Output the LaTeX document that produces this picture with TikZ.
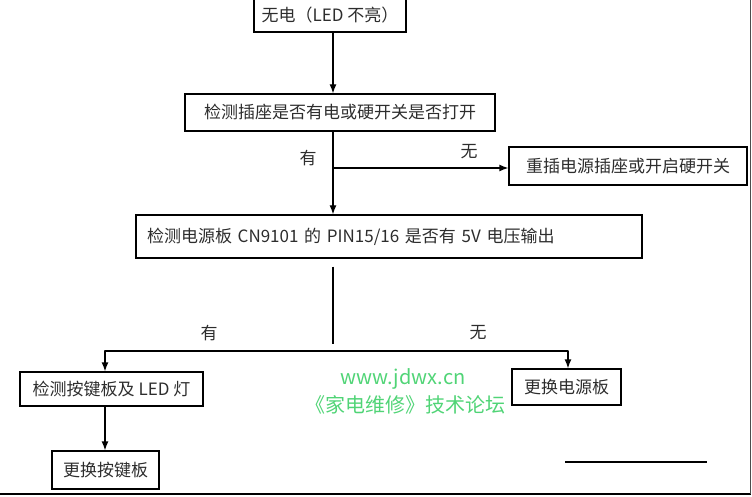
\documentclass[tikz,border=0pt]{standalone}
\usepackage{fontspec}
\setmainfont{Noto Sans CJK SC}
\usepackage{tikz}
\usetikzlibrary{arrows.meta, calc, positioning}
\usepackage{xcolor}
\definecolor{Ink}{RGB}{45,45,45}
\definecolor{MarkGreen}{RGB}{80,212,118}
\tikzset{%
  flow_block/.style={%
    rectangle,%
    draw=black,%
    line width=1.3pt,%
    text=Ink,%
    inner sep=0pt,%
    font={\fontsize{17}{20}\selectfont},%
    align=center%
  },
  flow_path/.style={%
    color=black,%
    line join=round,%
    line width=1.3pt,%
  },
  flow_annotate/.style={%
    text=Ink,%
    font={\fontsize{17}{20}\selectfont},%
  },
  watermark/.style={%
    text=MarkGreen,%
    inner sep=0pt,%
    font={\fontsize{20}{24}\selectfont},%
  },
  arrow/.style={-{Latex[length=9pt, width=7pt]}},
}

\begin{document}
\begin{tikzpicture}[x=1pt, y=1pt]

    \useasboundingbox (0,0) rectangle (752,496);

    \node [flow_block, minimum width=152, minimum height=34] (NoPower)
      at (330, 481) {无电（LED 不亮）};
    \node [flow_block, minimum width=310, minimum height=37] (CheckSocket)
      at (340, 383.5) {检测插座是否有电或硬开关是否打开};
    \node [flow_block, minimum width=238, minimum height=38] (Replug)
      at (628, 330) {重插电源插座或开启硬开关};
    \node [flow_block, inner xsep=11, text width=484, align=left,
      minimum height=43] (CheckBoard)
      at (389, 259.5) {检测电源板 CN9101 的 PIN15/16 是否有 5V 电压输出};
    \node [flow_block, minimum width=183, minimum height=34] (CheckKeys)
      at (111.5, 107) {检测按键板及 LED 灯};
    \node [flow_block, minimum width=109, minimum height=36] (SwapPower)
      at (566.5, 109) {更换电源板};
    \node [flow_block, minimum width=107, minimum height=38] (SwapKeys)
      at (105.5, 26) {更换按键板};

    \coordinate (trunk) at (333, 0);
    \coordinate (fork) at (333, 328);
    \coordinate (split) at (333, 145);
    \coordinate (leftdrop) at (105, 145);
    \coordinate (rightdrop) at (568, 145);

    \node [flow_annotate] (yes1) at (308, 338) {有};
    \node [flow_annotate] (no1) at (469, 344) {无};
    \node [flow_annotate] (yes2) at (209, 163) {有};
    \node [flow_annotate] (no2) at (478, 163) {无};

    \node [watermark] (site) at (403, 117) {www.jdwx.cn};
    \node [watermark] (forum) at (405, 91) {《家电维修》技术论坛};

    \draw [arrow, flow_path]
      (NoPower.south -| trunk)
      --
      (CheckSocket.north -| trunk);
    \draw [arrow, flow_path]
      (CheckSocket.south -| trunk)
      --
      (CheckBoard.north -| trunk);
    \draw [arrow, flow_path]
      (fork)
      --
      (Replug.west |- fork);
    \draw [flow_path]
      ($(CheckBoard.south -| trunk) + (0, -8)$)
      --
      (333, 152);
    \draw [arrow, flow_path]
      (split) -- (leftdrop) -- (CheckKeys.north -| leftdrop);
    \draw [arrow, flow_path]
      (split) -- (rightdrop) -- (SwapPower.north -| rightdrop);
    \draw [arrow, flow_path]
      (CheckKeys.south -| leftdrop)
      --
      (SwapKeys.north -| leftdrop);

    % page frame left in the scan
    \draw [flow_path] (0, 2) -- (751, 2);
    \draw [flow_path, line width=0.8pt, color=black!70] (750, 2) -- (750, 496);
    \draw [flow_path] (565, 34) -- (707, 34);
  \end{tikzpicture}
\end{document}
